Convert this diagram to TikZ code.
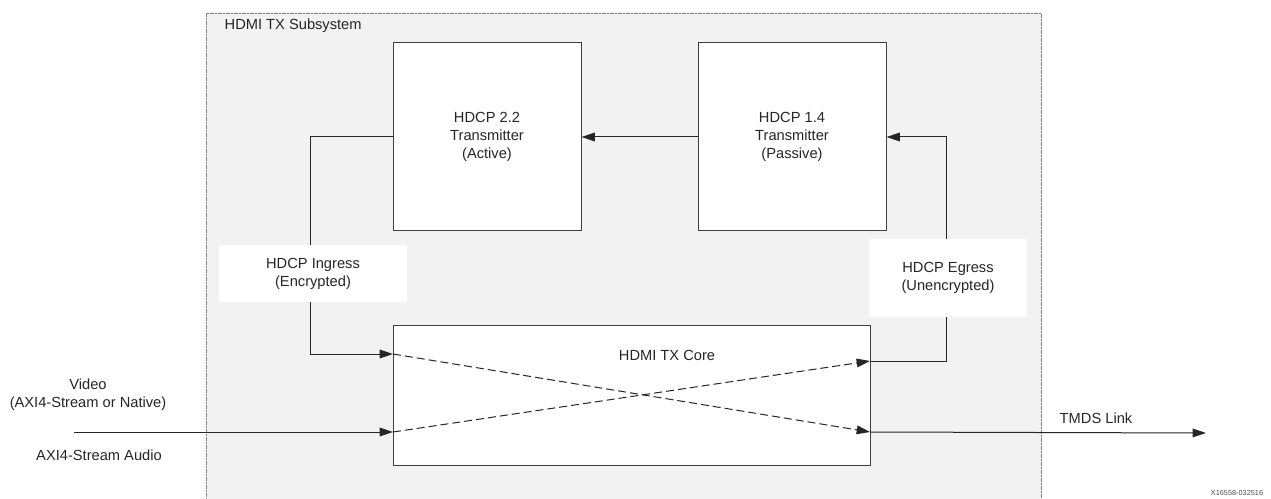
\documentclass[tikz,border=0pt]{standalone}
\usepackage{fontspec}
\setmainfont{Liberation Sans}
\usetikzlibrary{arrows.meta}
\begin{document}
\begin{tikzpicture}[x=0.75pt,y=-0.75pt,
  every node/.style={font=\fontsize{11}{13.5}\selectfont, text=black!85, align=center},
  blk/.style={draw=black!75, line width=0.75pt, fill=white, inner sep=0pt},
  lbl/.style={fill=white, inner sep=0pt},
  arr/.style={draw=black!85, line width=0.75pt, -{Triangle[length=10pt,width=6.5pt]}},
  dsh/.style={arr, dashed, dash pattern=on 6pt off 3pt},
  plain/.style={draw=black!85, line width=0.75pt}]
\useasboundingbox (0,0) rectangle (1271,499);
% subsystem
\fill[black!5] (206,13) rectangle (1041,499);
\draw[black!50, line width=0.7pt, dash pattern=on 3pt off 1pt on 1pt off 1pt] (206,505) -- (206,13) -- (1041,13) -- (1041,505);
\node[anchor=west] (subt) at (220,26) {HDMI TX Subsystem};
% blocks
\node[blk, minimum width=141pt, minimum height=141pt] (h22) at (487,137) {HDCP 2.2\\Transmitter\\(Active)};
\node[blk, minimum width=141pt, minimum height=141pt] (h14) at (792,137) {HDCP 1.4\\Transmitter\\(Passive)};
\node[blk, minimum width=357.75pt, minimum height=105pt] (core) at (631.5,395) {};
\node (coret) at (667,355) {HDMI TX Core};
% connector points
\coordinate (inA) at (393,354);
\coordinate (inB) at (393,432);
\coordinate (outE) at (870,361);
\coordinate (outT) at (870,432);
\coordinate (vin) at (74,432);
\coordinate (tmds) at (1206,433);
% connectors
\draw[arr] (h14.west) -- (h22.east);
\draw[arr] (h22.west) -- ++(-82,0) |- (inA);
\draw[arr] (outE) -- ++(76,0) |- (h14.east);
\draw[arr] (vin) -- (inB);
\draw[dsh] (inA) -- (outT);
\draw[dsh] (inB) -- (outE);
\draw[arr] (outT) -- (tmds);
% labels
\node[lbl, minimum width=141pt, minimum height=42.75pt] (ing) at (313,273.5) {HDCP Ingress\\(Encrypted)};
\node[lbl, minimum width=118.5pt, minimum height=58.5pt] (egr) at (948,278) {HDCP Egress\\(Unencrypted)};
\node (tml) at (1096,418) {TMDS Link};
\node (vidl) at (88,395) {Video\\(AXI4-Stream or Native)};
\node (audl) at (99,455) {AXI4-Stream Audio};
\node[font=\fontsize{5.5}{6}\selectfont, text=black!70] (fid) at (1237,493) {X16558-032516};
\end{tikzpicture}
\end{document}
